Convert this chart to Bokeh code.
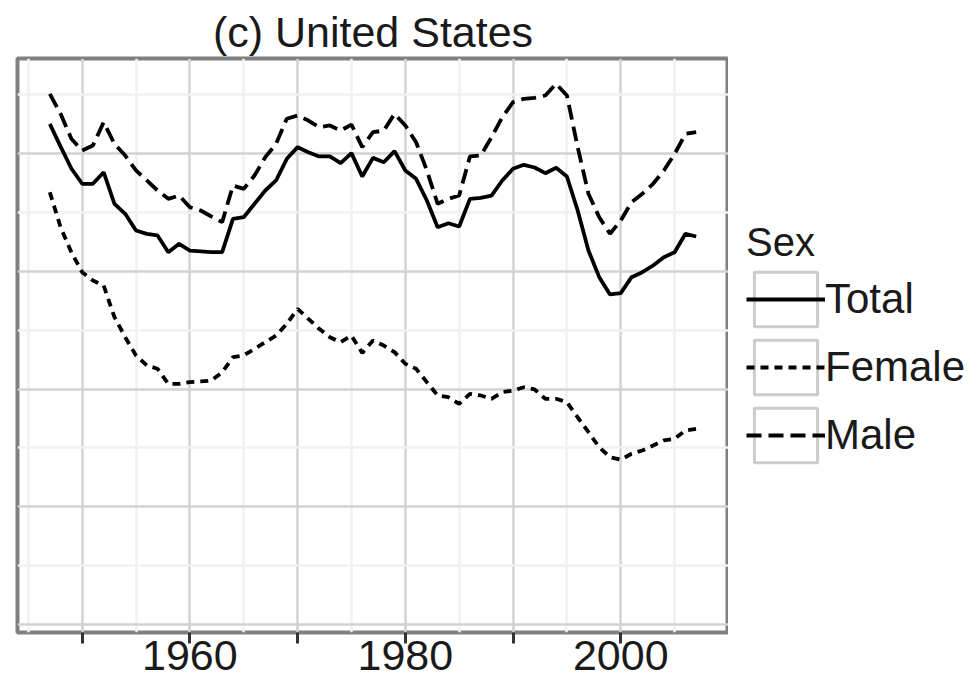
from bokeh.plotting import figure
from bokeh.layouts import row
from bokeh.models import Range1d, FixedTicker, Legend, LegendItem, ColumnDataSource
from bokeh.embed import file_html
from bokeh.resources import INLINE

# ---------------- data ----------------
years = list(range(1947, 2008))

total = [42.52, 40.59, 38.73, 37.43, 37.43, 38.41, 35.73, 34.88, 33.46, 33.18,
         33.04, 31.62, 32.33, 31.76, 31.69, 31.62, 31.62, 34.45, 34.59, 35.73,
         36.86, 37.71, 39.55, 40.54, 40.11, 39.75, 39.75, 39.18, 40.03, 38.05,
         39.63, 39.26, 40.20, 38.56, 37.85, 36.01, 33.74, 34.08, 33.80, 36.15,
         36.24, 36.43, 37.71, 38.70, 39.04, 38.81, 38.33, 38.79, 38.05, 35.16,
         31.76, 29.50, 28.03, 28.14, 29.50, 29.92, 30.49, 31.19, 31.62, 33.18,
         32.95]

female = [36.71, 33.74, 31.62, 29.92, 29.21, 28.79, 26.10, 24.40, 22.85, 22.00,
          21.72, 20.44, 20.44, 20.58, 20.64, 20.72, 21.43, 22.70, 22.85, 23.41,
          23.97, 24.54, 25.54, 26.81, 25.96, 25.11, 24.40, 23.97, 24.54, 23.06,
          24.12, 23.69, 23.13, 22.14, 21.72, 20.58, 19.45, 19.30, 18.74, 19.59,
          19.45, 19.17, 19.73, 19.87, 20.15, 19.96, 19.17, 19.17, 18.88, 17.60,
          16.33, 15.06, 14.21, 13.99, 14.50, 14.78, 15.20, 15.63, 15.77, 16.48,
          16.62]

male = [45.07, 43.37, 41.25, 40.25, 40.68, 42.66, 40.82, 39.83, 38.56, 37.71,
        36.86, 36.15, 36.43, 35.44, 35.16, 34.65, 34.17, 37.28, 37.00, 38.13,
        39.69, 40.82, 42.95, 43.23, 42.80, 42.23, 42.38, 41.95, 42.46, 40.54,
        41.81, 41.95, 43.37, 42.38, 40.96, 38.56, 35.73, 36.15, 36.43, 39.75,
        39.83, 41.38, 43.08, 44.36, 44.65, 44.73, 44.93, 45.92, 44.93, 40.54,
        36.58, 34.59, 33.18, 34.31, 35.86, 36.58, 37.43, 38.56, 39.97, 41.67,
        41.81]

series_names = ["Total", "Female", "Male"]
series_dashes = ["solid", "8 6", "15 7"]
title_text = "(c) United States"
legend_title = "Sex"

x_major_ticks = [1950, 1960, 1970, 1980, 1990, 2000]
x_minor_ticks = [1945, 1955, 1965, 1975, 1985, 1995, 2005]
x_tick_labels = {1950: "", 1960: "1960", 1970: "", 1980: "1980", 1990: "", 2000: "2000"}
y_major_ticks = [0, 10, 20, 30, 40]
y_minor_ticks = [5, 15, 25, 35, 45]

# ---------------- styling ----------------
FONT = "Liberation Sans"
TEXT = "#1a1a1a"
LW = 3.8
H = 688

# ---------------- main panel ----------------
p = figure(width=728, height=H,
           min_border_left=17, min_border_right=0, min_border_top=58, min_border_bottom=H - 632,
           x_range=Range1d(1944, 2010), y_range=Range1d(-0.68, 48.07),
           output_backend="svg", toolbar_location=None, title=title_text,
           background_fill_color="white", border_fill_color="white")

p.title.align = "center"
p.title.vertical_align = "middle"
p.title.text_font = FONT
p.title.text_font_size = "43px"
p.title.text_font_style = "normal"
p.title.text_color = TEXT
p.title.standoff = 4

p.outline_line_color = "#808080"
p.outline_line_width = 4

p.yaxis.visible = False
xt = FixedTicker(ticks=x_major_ticks, minor_ticks=x_minor_ticks)
p.xaxis.ticker = xt
p.xaxis.major_label_overrides = {k: v for k, v in x_tick_labels.items()}
p.xaxis.axis_line_color = None
p.xaxis.major_tick_line_color = "#333333"
p.xaxis.major_tick_line_width = 3
p.xaxis.major_tick_in = 0
p.xaxis.major_tick_out = 11
p.xaxis.minor_tick_line_color = None
p.xaxis.major_label_text_font = FONT
p.xaxis.major_label_text_font_size = "43px"
p.xaxis.major_label_text_color = TEXT
p.xaxis.major_label_standoff = -3

p.xgrid.ticker = xt
p.ygrid.ticker = FixedTicker(ticks=y_major_ticks, minor_ticks=y_minor_ticks)
for g in (p.xgrid, p.ygrid):
    g.grid_line_color = "#d2d2d2"
    g.grid_line_width = 2.5
    g.minor_grid_line_color = "#f1f1f1"
    g.minor_grid_line_width = 2.5

src = ColumnDataSource(dict(year=years, Total=total, Female=female, Male=male))
for name, dash in zip(series_names, series_dashes):
    p.line("year", name, source=src, line_color="black", line_width=LW, line_dash=dash)

# ---------------- legend panel ----------------
lp = figure(width=970 - 728, height=H, min_border=0,
            x_range=Range1d(0, 1), y_range=Range1d(0, 1),
            x_axis_type=None, y_axis_type=None,
            output_backend="svg", toolbar_location=None,
            background_fill_color="white", border_fill_color="white")
lp.outline_line_color = None
lp.grid.visible = False

nan = float("nan")
key_box = lp.rect(x=[nan], y=[nan], width=1, height=1, fill_color="white",
                  line_color="#cccccc", line_width=3)
items = []
for name, dash in zip(series_names, series_dashes):
    r = lp.line(x=[nan], y=[nan], line_color="black", line_width=LW, line_dash=dash)
    items.append(LegendItem(label=name, renderers=[key_box, r]))

legend = Legend(items=items, title=legend_title, location=(18, 163),
                orientation="vertical", glyph_width=79, glyph_height=68,
                spacing=0, label_standoff=0, padding=0, margin=0,
                border_line_color=None, background_fill_alpha=0,
                label_text_font=FONT, label_text_font_size="42px",
                label_text_color=TEXT,
                title_text_font=FONT, title_text_font_size="40px",
                title_text_font_style="normal", title_text_color=TEXT,
                title_standoff=0)
lp.add_layout(legend, "center")

layout = row(p, lp, spacing=0)
open("out.html", "w").write(file_html(layout, INLINE))
